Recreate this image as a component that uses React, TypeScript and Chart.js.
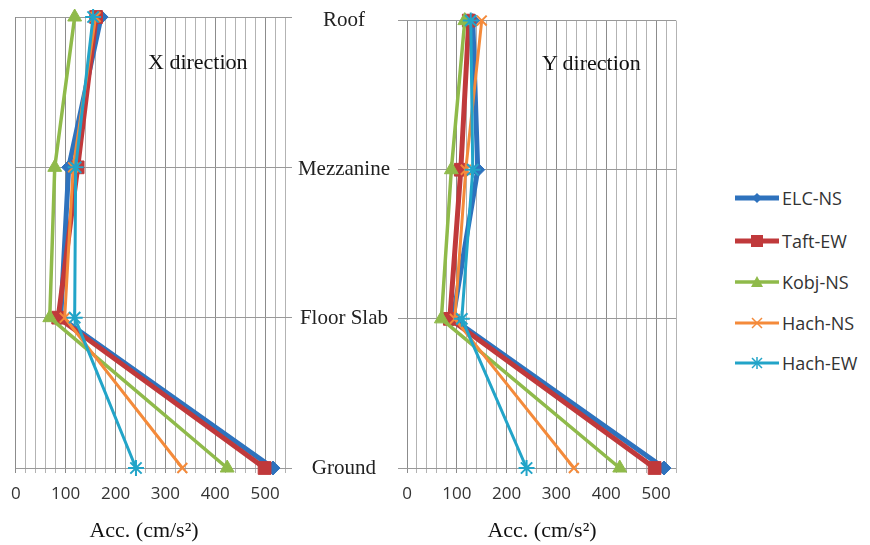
import React, { useEffect, useRef } from 'react';
import { Chart, registerables } from 'chart.js';
Chart.register(...registerables);

// ---- data ----
const categories = ['Ground', 'Floor Slab', 'Mezzanine', 'Roof'];
const seriesNames = ['ELC-NS', 'Taft-EW', 'Kobj-NS', 'Hach-NS', 'Hach-EW'];

// X direction (values at Ground, Floor Slab, Mezzanine, Roof)
const elcX = [516, 90, 106, 171];
const taftX = [499, 85, 124, 161];
const kobjX = [424, 68, 78, 118];
const hachNsX = [334, 98, 115, 160];
const hachEwX = [241, 118, 120, 155];

// Y direction
const elcY = [516, 92, 142, 132];
const taftY = [497, 86, 108, 124];
const kobjY = [427, 69, 89, 116];
const hachNsY = [335, 96, 118, 150];
const hachEwY = [240, 110, 132, 128];

const xMin = 0;
const xMax = 540;
const xStep = 20;
const xLabelStep = 100;

const colors = ['#2e72bd', '#c0393b', '#8fba4a', '#f48a3a', '#22a4c8'];
const pointStyles = ['rectRot', 'rect', 'triangle', 'crossRot', 'star'];
const lineWidths = [5, 5, 3.5, 3, 3];
const pointRadii = [7, 9, 8, 7, 8];

const tickFont = { family: '"Open Sans", sans-serif', size: 17 };
const catFont = { family: '"Liberation Serif", serif', size: 21 };

function buildDatasets(series: number[][]) {
  return series.map((vals, si) => ({
    label: seriesNames[si],
    data: vals.map((v, i) => ({ x: v, y: i })),
    showLine: true,
    borderColor: colors[si],
    backgroundColor: colors[si],
    borderWidth: lineWidths[si],
    pointStyle: pointStyles[si],
    pointRadius: pointRadii[si],
    pointBorderWidth: si >= 3 ? 2 : 1,
    pointBorderColor: colors[si],
    pointBackgroundColor: colors[si],
    tension: 0,
    clip: false as any,
    order: 5 - si,
  }));
}

function xScale() {
  return {
    type: 'linear' as const,
    min: xMin,
    max: xMax,
    position: 'bottom' as const,
    ticks: {
      stepSize: xStep,
      autoSkip: false,
      maxRotation: 0,
      padding: 11,
      color: '#333',
      font: tickFont,
      callback: (v: any) => (v % xLabelStep === 0 ? String(v) : ''),
    },
    grid: {
      color: (ctx: any) => (ctx.tick && ctx.tick.value % xLabelStep === 0 ? '#8c8c8c' : '#b3b3b3'),
      lineWidth: 1,
      tickLength: 5,
    },
    border: { display: false },
    afterFit: (s: any) => {
      s.height = 77;
    },
  };
}

function makeConfig(series: number[][], side: 'left' | 'right'): any {
  const yAxis: any =
    side === 'left'
      ? {
          type: 'linear',
          min: 0,
          max: categories.length - 1,
          position: 'right',
          ticks: { stepSize: 1, display: false },
          grid: { color: '#999', tickLength: 7 },
          border: { display: false },
          afterFit: (s: any) => {
            s.width = 7;
          },
        }
      : {
          type: 'linear',
          min: 0,
          max: categories.length - 1,
          position: 'left',
          ticks: {
            stepSize: 1,
            crossAlign: 'center',
            padding: 8,
            color: '#222',
            font: catFont,
            callback: (v: any) => categories[v] ?? '',
          },
          grid: { color: '#999', tickLength: 9 },
          border: { display: false },
          afterFit: (s: any) => {
            s.width = 120;
          },
        };
  return {
    type: 'scatter',
    data: { datasets: buildDatasets(series) },
    options: {
      animation: false,
      responsive: false,
      maintainAspectRatio: false,
      layout: {
        padding: side === 'left' ? { left: 14, right: 8, top: 17, bottom: 0 } : { left: 0, right: 6, top: 17, bottom: 0 },
      },
      plugins: { legend: { display: false }, tooltip: { enabled: false } },
      scales: { x: xScale(), y: yAxis },
    },
  };
}

function Panel({ series, side, left, width }: { series: number[][]; side: 'left' | 'right'; left: number; width: number }) {
  const ref = useRef<HTMLCanvasElement>(null);
  useEffect(() => {
    if (!ref.current) return;
    const chart = new Chart(ref.current, makeConfig(series, side));
    return () => chart.destroy();
  }, []);
  return (
    <canvas
      ref={ref}
      width={width}
      height={545}
      style={{ position: 'absolute', left, top: 0, width, height: 545, display: 'block' }}
    />
  );
}

function LegendIcon({ idx }: { idx: number }) {
  const c = colors[idx];
  const cx = 22;
  const cy = 10;
  let marker: any = null;
  if (idx === 0) marker = <polygon points={`${cx},${cy - 5} ${cx + 5},${cy} ${cx},${cy + 5} ${cx - 5},${cy}`} fill={c} />;
  if (idx === 1) marker = <rect x={cx - 6} y={cy - 6} width={12} height={12} fill={c} />;
  if (idx === 2) marker = <polygon points={`${cx},${cy - 6} ${cx + 6},${cy + 5} ${cx - 6},${cy + 5}`} fill={c} />;
  if (idx === 3)
    marker = (
      <g stroke={c} strokeWidth={1.5}>
        <line x1={cx - 5} y1={cy - 5} x2={cx + 5} y2={cy + 5} />
        <line x1={cx - 5} y1={cy + 5} x2={cx + 5} y2={cy - 5} />
      </g>
    );
  if (idx === 4)
    marker = (
      <g stroke={c} strokeWidth={1.5}>
        <line x1={cx - 5} y1={cy - 5} x2={cx + 5} y2={cy + 5} />
        <line x1={cx - 5} y1={cy + 5} x2={cx + 5} y2={cy - 5} />
        <line x1={cx} y1={cy - 6} x2={cx} y2={cy + 6} />
      </g>
    );
  return (
    <svg width={44} height={20} style={{ display: 'block' }}>
      <line x1={0} y1={cy} x2={44} y2={cy} stroke={c} strokeWidth={lineWidths[idx]} />
      {marker}
    </svg>
  );
}

const legendY = [198, 241, 282, 323, 363];

export default function App() {
  const serifText: React.CSSProperties = {
    position: 'absolute',
    fontFamily: '"Liberation Serif", serif',
    color: '#111',
    whiteSpace: 'nowrap',
  };
  return (
    <div style={{ position: 'fixed', left: 0, top: 0, width: 870, height: 545, background: '#fff', overflow: 'hidden' }}>
      <Panel series={[elcX, taftX, kobjX, hachNsX, hachEwX]} side="left" left={0} width={300} />
      <Panel series={[elcY, taftY, kobjY, hachNsY, hachEwY]} side="right" left={287} width={400} />
      <div style={{ ...serifText, left: 148, top: 49, fontSize: 22, lineHeight: '26px' }}>X direction</div>
      <div style={{ ...serifText, left: 542, top: 50, fontSize: 22, lineHeight: '26px' }}>Y direction</div>
      <div style={{ ...serifText, left: 44, width: 200, textAlign: 'center', top: 517, fontSize: 22, lineHeight: '26px' }}>
        Acc. (cm/s²)
      </div>
      <div style={{ ...serifText, left: 442, width: 200, textAlign: 'center', top: 517, fontSize: 22, lineHeight: '26px' }}>
        Acc. (cm/s²)
      </div>
      {seriesNames.map((n, i) => (
        <div
          key={n}
          style={{ position: 'absolute', left: 735, top: legendY[i] - 12, height: 24, display: 'flex', alignItems: 'center' }}
        >
          <LegendIcon idx={i} />
          <span style={{ marginLeft: 3, fontFamily: '"Open Sans", sans-serif', fontSize: 18, color: '#333' }}>{n}</span>
        </div>
      ))}
    </div>
  );
}
